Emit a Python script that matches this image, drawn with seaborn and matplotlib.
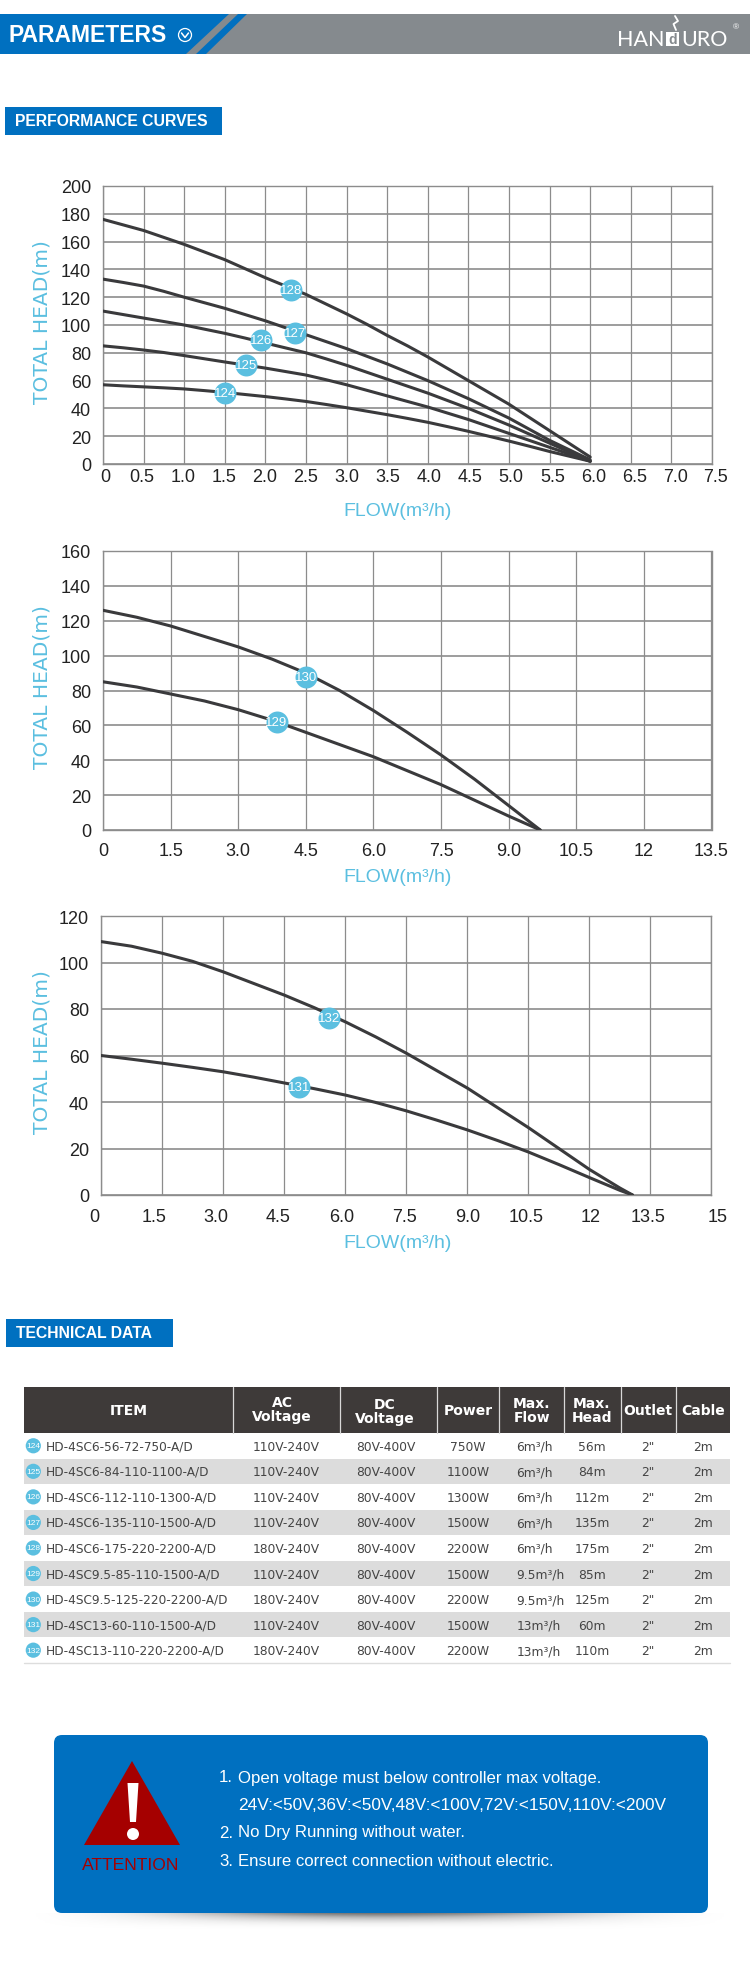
import matplotlib
matplotlib.use("Agg")
import matplotlib.pyplot as plt
from matplotlib.patches import Rectangle, Polygon, FancyBboxPatch, Circle, Ellipse
from matplotlib.transforms import ScaledTranslation
import numpy as np
import pandas as pd
import seaborn as sns

W, H = 750, 1983
BLUE = "#0070c0"
BANNER_GREY = "#858a8e"
CYAN = "#5bbfe0"
GRID = "#8c8c8c"
CURVE = "#3a3a3c"

# chart 1
flow_1 = [0, 0.25, 0.5, 0.75, 1.0, 1.25, 1.5, 1.75, 2.0, 2.25, 2.5, 2.75, 3.0, 3.25, 3.5, 3.75, 4.0, 4.25, 4.5, 4.75, 5.0, 5.25, 5.5, 5.75, 6.0]
head_124 = [57, 56.2, 55.5, 54.8, 54, 52.8, 51.5, 50, 48.5, 46.8, 45, 42.8, 40.5, 38, 35.5, 32.8, 30, 26.8, 23.5, 20, 16.5, 12.8, 9, 5.5, 2]
head_125 = [85, 83.6, 82, 80.2, 78, 75.7, 73.4, 71.2, 69, 66.5, 64, 60.6, 57, 53, 49, 45, 41, 36.5, 32, 27, 22, 17, 12, 7, 2]
head_126 = [110, 107.5, 105, 102.5, 100, 97, 94, 90.6, 87, 83.5, 80, 75.6, 71, 66, 61, 56, 51, 45.5, 40, 34, 28, 21.5, 15, 8.5, 2]
head_127 = [133, 130.6, 128, 124.2, 120, 116, 112, 107.5, 103, 98, 93, 88, 83, 77.5, 72, 66, 60, 53.5, 47, 40, 33, 25, 17, 10, 3]
head_128 = [176, 172, 168, 163, 158, 152.5, 147, 140.5, 134, 128, 122, 115, 108, 100.5, 92.5, 85, 77, 68.5, 60, 51.5, 43, 33.5, 24, 14.5, 5]
badges_1 = [("124", 1.5, 51), ("125", 1.76, 71), ("126", 1.95, 89), ("127", 2.37, 94), ("128", 2.32, 125)]
xticks_1 = [0, 0.5, 1.0, 1.5, 2.0, 2.5, 3.0, 3.5, 4.0, 4.5, 5.0, 5.5, 6.0, 6.5, 7.0, 7.5]
xlabels_1 = ["0", "0.5", "1.0", "1.5", "2.0", "2.5", "3.0", "3.5", "4.0", "4.5", "5.0", "5.5", "6.0", "6.5", "7.0", "7.5"]
yticks_1 = [0, 20, 40, 60, 80, 100, 120, 140, 160, 180, 200]

# chart 2
flow_2 = [0, 0.75, 1.5, 2.25, 3.0, 3.75, 4.5, 5.25, 6.0, 6.75, 7.5, 8.25, 9.0, 9.7]
head_129 = [85, 82, 78, 74, 69, 63, 56, 49, 42, 34, 26, 17, 8, 0]
head_130 = [126, 122, 117, 111, 105, 98, 90, 80, 68.5, 56, 43, 29, 14, 0]
badges_2 = [("129", 3.85, 62), ("130", 4.5, 88)]
xticks_2 = [0, 1.5, 3.0, 4.5, 6.0, 7.5, 9.0, 10.5, 12, 13.5]
xlabels_2 = ["0", "1.5", "3.0", "4.5", "6.0", "7.5", "9.0", "10.5", "12", "13.5"]
yticks_2 = [0, 20, 40, 60, 80, 100, 120, 140, 160]

# chart 3
flow_3 = [0, 0.75, 1.5, 2.25, 3.0, 3.75, 4.5, 5.25, 6.0, 6.75, 7.5, 8.25, 9.0, 9.75, 10.5, 11.25, 12.0, 12.75, 13.06]
head_131 = [60, 58.4, 56.7, 54.9, 53, 50.7, 48.2, 45.7, 43, 39.8, 36.2, 32.2, 28, 23.4, 18.5, 13.1, 7.5, 2, 0]
head_132 = [109, 107, 104, 100.5, 96, 91, 86, 80.5, 74.5, 68, 61, 53.5, 46, 37.5, 29, 20, 11, 3, 0]
badges_3 = [("131", 4.87, 46.5), ("132", 5.6, 76)]
xticks_3 = [0, 1.5, 3.0, 4.5, 6.0, 7.5, 9.0, 10.5, 12, 13.5, 15]
xlabels_3 = ["0", "1.5", "3.0", "4.5", "6.0", "7.5", "9.0", "10.5", "12", "13.5", "15"]
yticks_3 = [0, 20, 40, 60, 80, 100, 120]

# table
badge_ids = ["124", "125", "126", "127", "128", "129", "130", "131", "132"]
items = ["HD-4SC6-56-72-750-A/D", "HD-4SC6-84-110-1100-A/D", "HD-4SC6-112-110-1300-A/D",
         "HD-4SC6-135-110-1500-A/D", "HD-4SC6-175-220-2200-A/D", "HD-4SC9.5-85-110-1500-A/D",
         "HD-4SC9.5-125-220-2200-A/D", "HD-4SC13-60-110-1500-A/D", "HD-4SC13-110-220-2200-A/D"]
ac_volt = ["110V-240V", "110V-240V", "110V-240V", "110V-240V", "180V-240V", "110V-240V", "180V-240V", "110V-240V", "180V-240V"]
dc_volt = ["80V-400V"] * 9
power = ["750W", "1100W", "1300W", "1500W", "2200W", "1500W", "2200W", "1500W", "2200W"]
max_flow = ["6m³/h", "6m³/h", "6m³/h", "6m³/h", "6m³/h", "9.5m³/h", "9.5m³/h", "13m³/h", "13m³/h"]
max_head = ["56m", "84m", "112m", "135m", "175m", "85m", "125m", "60m", "110m"]
outlet = ['2"'] * 9
cable = ["2m"] * 9

notes = ["Open voltage must below controller max voltage.",
         "24V:<50V,36V:<50V,48V:<100V,72V:<150V,110V:<200V",
         "No Dry Running without water.",
         "Ensure correct connection without electric."]

sns.set_style("white")
plt.rcParams["font.family"] = ["Liberation Sans", "DejaVu Sans"]
NARROW = ["Liberation Sans Narrow", "Liberation Sans"]

fig = plt.figure(figsize=(W / 100, H / 100), dpi=100)
bg = fig.add_axes([0, 0, 1, 1], zorder=0)
bg.set_xlim(0, W)
bg.set_ylim(H, 0)
bg.axis("off")


def box(x0, y0, x1, y1, color, **kw):
    bg.add_patch(Rectangle((x0, y0), x1 - x0, y1 - y0, facecolor=color, edgecolor="none", **kw))


def chart(rect, flow, curves, badges, xticks, xlabels, yticks, xlim, ylim, tick_len, label_shift=None):
    left, top, right, bottom = rect
    ax = fig.add_axes([left / W, 1 - bottom / H, (right - left) / W, (bottom - top) / H], zorder=2)
    ax.patch.set_alpha(0)
    for head in curves:
        df = pd.DataFrame({"flow": flow, "head": head})
        sns.lineplot(data=df, x="flow", y="head", ax=ax, color=CURVE, lw=2.2, errorbar=None,
                     solid_joinstyle="round", zorder=3)
    ax.set_xlim(*xlim)
    ax.set_ylim(*ylim)
    ax.set_xticks(xticks, xlabels)
    ax.set_yticks(yticks)
    ax.grid(True, axis="y", color=GRID, lw=1.2)
    ax.grid(True, axis="x", color=GRID, lw=0.9)
    ax.set_axisbelow(True)
    for s in ax.spines.values():
        s.set_color(GRID)
        s.set_linewidth(1.0)
    ax.tick_params(axis="x", length=tick_len, width=0.9, color=GRID, labelsize=13, labelcolor="#222222", pad=3)
    ax.tick_params(axis="y", length=5, width=1.2, color=GRID, labelsize=13, labelcolor="#222222", pad=3.5)
    ax.set_xlabel("")
    ax.set_ylabel("")
    if label_shift:
        # the labels in the original don't sit exactly under their lines
        for lab, dx in zip(ax.get_xticklabels(), label_shift):
            lab.set_transform(lab.get_transform() + ScaledTranslation(dx / 100, 0, fig.dpi_scale_trans))
    for name, x, y in badges:
        ax.scatter([x], [y], s=250, color="#5bbfe0", linewidths=0, zorder=4, clip_on=False)
        ax.text(x, y, name, color="white", fontsize=9.5, ha="center", va="center", family=NARROW, zorder=5)
    mid_y = (top + bottom) / 2
    bg.text(42, mid_y - 4, "TOTAL HEAD(m)", rotation=90, color=CYAN, fontsize=14.6, family=["DejaVu Sans"],
            ha="center", va="center")
    bg.text(398, bottom + 47, "FLOW(m³/h)", color=CYAN, fontsize=14, ha="center", va="center")
    return ax


chart((103, 187, 712, 465), flow_1, [head_124, head_125, head_126, head_127, head_128], badges_1,
      xticks_1, xlabels_1, yticks_1, (0, 7.5), (0, 200), 0,
      [2, -2, -1, -1, -1, 0, 0, 1, 1, 2, 2, 3, 3, 4, 4, 4])
chart((103, 552, 711.5, 831), flow_2, [head_129, head_130], badges_2,
      xticks_2, xlabels_2, yticks_2, (0, 13.5), (0, 160), 6)
chart((101, 917, 711.5, 1196), flow_3, [head_131, head_132], badges_3,
      xticks_3, xlabels_3, yticks_3, (0, 15), (0, 120), 6,
      [-7, -8, -7, -6, -4, -2, 0, -2, 1, -2, 6])

# top banner
box(0, 15, W, 55, BANNER_GREY)
bg.add_patch(Polygon([(0, 15), (229, 15), (186, 55), (0, 55)], facecolor=BLUE, edgecolor="none"))
bg.add_patch(Polygon([(238, 15), (247, 15), (206, 55), (196, 55)], facecolor=BLUE, edgecolor="none"))
bg.text(9, 36, "PARAMETERS", color="white", fontsize=16.5, fontweight="bold", va="center", ha="left")
bg.add_patch(Circle((185, 36), 6.5, facecolor="none", edgecolor="white", lw=0.9))
bg.plot([181.5, 185, 188.5], [34, 38.5, 34], color="white", lw=1.1)
bg.plot([675, 678, 673.5, 676], [17, 22, 25, 31], color="white", lw=1.3)
bg.text(664.5, 40, "HAN", color="white", fontsize=15.5, family=["Lato", "DejaVu Sans"], ha="right", va="center")
box(666, 33, 679, 47, "white")
bg.text(672.5, 40, "d", color=BANNER_GREY, fontsize=10, fontweight="bold", ha="center", va="center")
bg.text(681, 40, "URO", color="white", fontsize=15.5, family=["Lato", "DejaVu Sans"], ha="left", va="center")
bg.text(736, 28, "®", color="white", fontsize=6, ha="center", va="center")

# section tags
box(5, 108, 222, 136, BLUE)
bg.text(15, 122, "PERFORMANCE CURVES", color="white", fontsize=11.3, fontweight="bold", va="center", ha="left")
box(6, 1320, 173, 1348, BLUE)
bg.text(16, 1334, "TECHNICAL DATA", color="white", fontsize=11.3, fontweight="bold", va="center", ha="left")

# table
TABLE_FONT = ["DejaVu Sans"]
col_edges = [23.7, 232.5, 340, 437, 499, 563.7, 621, 675.7, 730]
box(col_edges[0], 1388, col_edges[-1], 1434, "#3e3a39")
for e in col_edges[1:-1]:
    bg.plot([e, e], [1388, 1434], color="#d8d8d8", lw=0.9)
headers = [("ITEM", 129, 1411), ("AC\nVoltage", 282, 1410), ("DC\nVoltage", 385, 1412), ("Power", 468, 1411),
           ("Max.\nFlow", 532, 1411), ("Max.\nHead", 592, 1411), ("Outlet", 648, 1411), ("Cable", 703, 1411)]
for txt, x, y in headers:
    bg.text(x, y, txt, color="white", fontsize=10, fontweight="bold", family=TABLE_FONT,
            ha="center", va="center", linespacing=1.0)

row_top = 1434
row_h = 25.55
for i in range(9):
    y0 = row_top + i * row_h
    yc = y0 + row_h / 2
    if i % 2 == 1:
        box(col_edges[0], y0, col_edges[-1], y0 + row_h, "#dcdcdc")
    bg.add_patch(Circle((33.3, yc), 7.6, facecolor="#5bbfe0", edgecolor="none"))
    bg.text(33.3, yc, badge_ids[i], color="white", fontsize=6, family=NARROW, ha="center", va="center")
    bg.text(45.7, yc, items[i], color="#444444", fontsize=8.7, family=TABLE_FONT, ha="left", va="center")
    for vals, x in [(ac_volt, 286), (dc_volt, 386), (power, 468), (max_head, 592), (outlet, 648), (cable, 703)]:
        bg.text(x, yc + 0.5, vals[i], color="#444444", fontsize=8.8, family=TABLE_FONT, ha="center", va="center")
    bg.text(516.5, yc + 0.5, max_flow[i], color="#444444", fontsize=8.8, family=TABLE_FONT, ha="left", va="center")
bg.plot([col_edges[0], col_edges[-1]], [row_top + 9 * row_h] * 2, color="#dddddd", lw=1)

# notice panel, soft shadow first
shadow_x = np.linspace(-1, 1, 300)
shadow_y = np.linspace(0, 1, 40)
sx, sy = np.meshgrid(shadow_x, shadow_y)
shadow = np.clip(1 - sx ** 2, 0, 1) ** 2 * (1 - sy) ** 1.5
bg.imshow(shadow, extent=(20, 740, 1930, 1914), cmap="Greys", vmin=0, vmax=1.6, aspect="auto", zorder=0.5)
bg.set_xlim(0, W)
bg.set_ylim(H, 0)
bg.add_patch(FancyBboxPatch((60, 1742), 642, 166, boxstyle="round,pad=6,rounding_size=8",
                            facecolor=BLUE, edgecolor="none", zorder=1))
bg.add_patch(Polygon([(132, 1762), (180, 1846), (84, 1846)], facecolor="#a50000", edgecolor="none", zorder=2))
bg.add_patch(Polygon([(127.5, 1784), (138.5, 1784), (136, 1823), (130, 1823)], facecolor="white", edgecolor="none", zorder=3))
bg.add_patch(Ellipse((133, 1835), 12, 12, facecolor="white", edgecolor="none", zorder=3))
bg.text(131, 1866, "ATTENTION", color="#a50000", fontsize=12.6, family=NARROW, ha="center", va="center", zorder=3)
for num, y in [("1.", 1778), ("2.", 1833), ("3.", 1862)]:
    bg.text(219, y, num, color="white", fontsize=12.2, ha="left", va="center", zorder=3)
for txt, y, fs in zip(notes, [1778, 1805, 1833, 1862], [12.1, 12.4, 12.1, 12.1]):
    bg.text(238, y, txt, color="white", fontsize=fs, ha="left", va="center", zorder=3)

fig.savefig("out.png", dpi=100, facecolor="white")
